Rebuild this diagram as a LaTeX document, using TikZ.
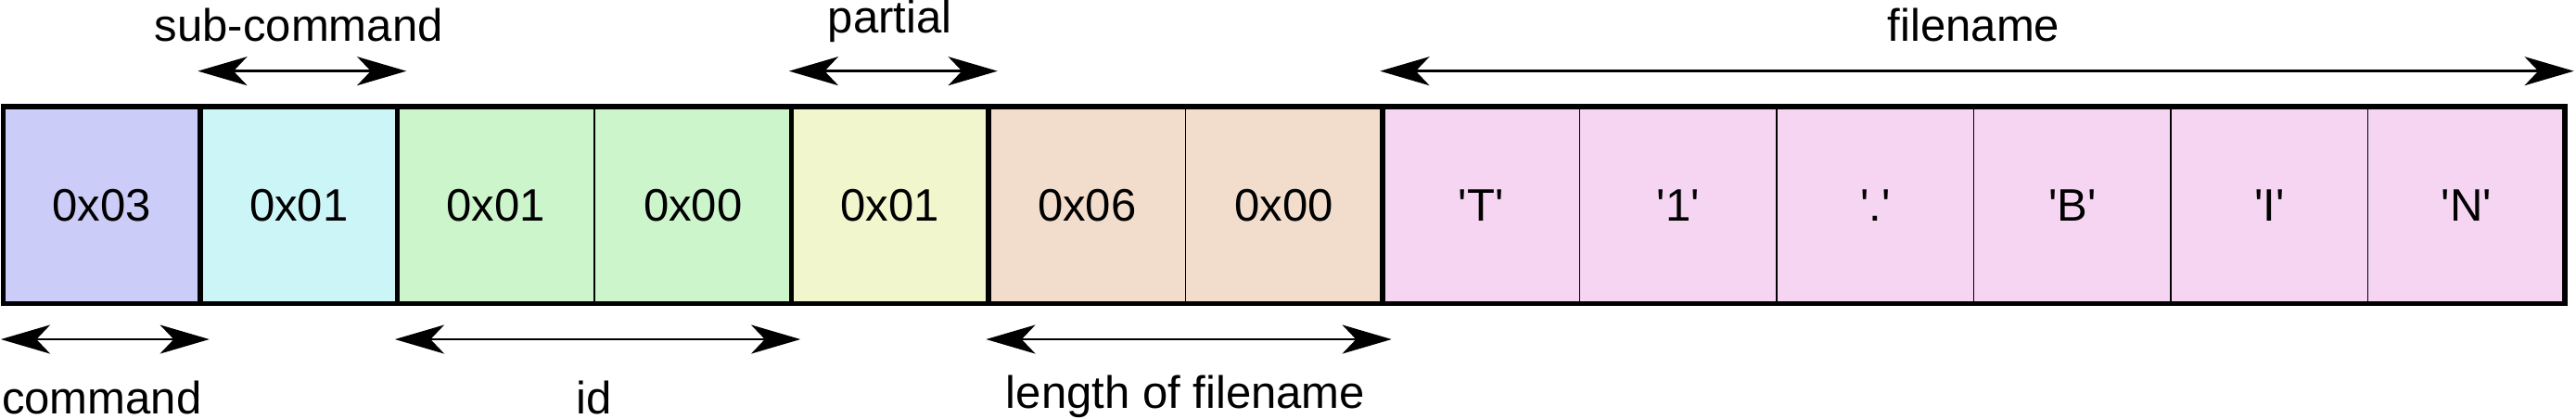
\documentclass[tikz,border=0pt]{standalone}
\usepackage{fontspec}
\setmainfont{Liberation Sans}
\usepackage{tikz}
\usetikzlibrary{positioning, calc, arrows.meta}

\definecolor{cmdfill}{HTML}{CCCCF9}
\definecolor{subfill}{HTML}{CCF5F8}
\definecolor{idfill}{HTML}{CCF5CC}
\definecolor{partfill}{HTML}{F2F6CC}
\definecolor{lenfill}{HTML}{F2DDCC}
\definecolor{namefill}{HTML}{F6D5F3}

\newcommand{\bytechar}[1]{\textquotesingle#1\textquotesingle}

\tikzset{
    byte/.style={draw, line width=0.8pt, minimum width=120pt, minimum height=120pt,
        inner sep=0pt, outer sep=0pt, font=\fontsize{27.7}{33}\selectfont},
    field/.style={draw, line width=3pt},
    dim/.style={line width=1.6pt,
        {Stealth[length=30pt, width=17.5pt, inset=8.3pt]}-{Stealth[length=30pt, width=17.5pt, inset=8.3pt]}},
    lbl/.style={anchor=base, inner sep=0pt, font=\fontsize{27.7}{33}\selectfont}
}

\begin{document}
\begin{tikzpicture}[x=1pt, y=1pt]
            \useasboundingbox (0,0) rectangle (1568.8,-255.2);
            \node[byte, fill=cmdfill] (b0) at (62,-125) {0x03};
            \node[byte, fill=subfill, right=0pt of b0] (b1) {0x01};
            \node[byte, fill=idfill, right=0pt of b1] (b2) {0x01};
            \node[byte, fill=idfill, right=0pt of b2] (b3) {0x00};
            \node[byte, fill=partfill, right=0pt of b3] (b4) {0x01};
            \node[byte, fill=lenfill, right=0pt of b4] (b5) {0x06};
            \node[byte, fill=lenfill, right=0pt of b5] (b6) {0x00};
            \node[byte, fill=namefill, right=0pt of b6] (b7) {\bytechar{T}};
            \node[byte, fill=namefill, right=0pt of b7] (b8) {\bytechar{1}};
            \node[byte, fill=namefill, right=0pt of b8] (b9) {\bytechar{.}};
            \node[byte, fill=namefill, right=0pt of b9] (b10) {\bytechar{B}};
            \node[byte, fill=namefill, right=0pt of b10] (b11) {\bytechar{I}};
            \node[byte, fill=namefill, right=0pt of b11] (b12) {\bytechar{N}};

            \draw[field] (b0.north west) rectangle (b0.south east);
            \draw[field] (b1.north west) rectangle (b1.south east);
            \draw[field] (b2.north west) rectangle (b3.south east);
            \draw[field] (b4.north west) rectangle (b4.south east);
            \draw[field] (b5.north west) rectangle (b6.south east);
            \draw[field] (b7.north west) rectangle (b12.south east);

            \draw[dim] ([shift={(-1.5,21.7)}]b1.north west) -- ([shift={(5.5,21.7)}]b1.north east);
            \draw[dim] ([shift={(-1.5,21.7)}]b4.north west) -- ([shift={(5.5,21.7)}]b4.north east);
            \draw[dim] ([shift={(-1.5,21.7)}]b7.north west) -- ([shift={(5.5,21.7)}]b12.north east);
            \draw[dim] ([shift={(-1.5,-21.7)}]b0.south west) -- ([shift={(5.5,-21.7)}]b0.south east);
            \draw[dim] ([shift={(-1.5,-21.7)}]b2.south west) -- ([shift={(5.5,-21.7)}]b3.south east);
            \draw[dim] ([shift={(-1.5,-21.7)}]b5.south west) -- ([shift={(5.5,-21.7)}]b6.south east);

            \node[lbl] (lsub) at (182,-25.4) {sub-command};
            \node[lbl] (lpart) at (542,-19.8) {partial};
            \node[lbl] (lname) at (1202,-25.4) {filename};
            \node[lbl] (lcmd) at (62,-252) {command};
            \node[lbl] (lid) at (362,-252) {id};
            \node[lbl] (llen) at (722,-248.5) {length of filename};
\end{tikzpicture}
\end{document}
